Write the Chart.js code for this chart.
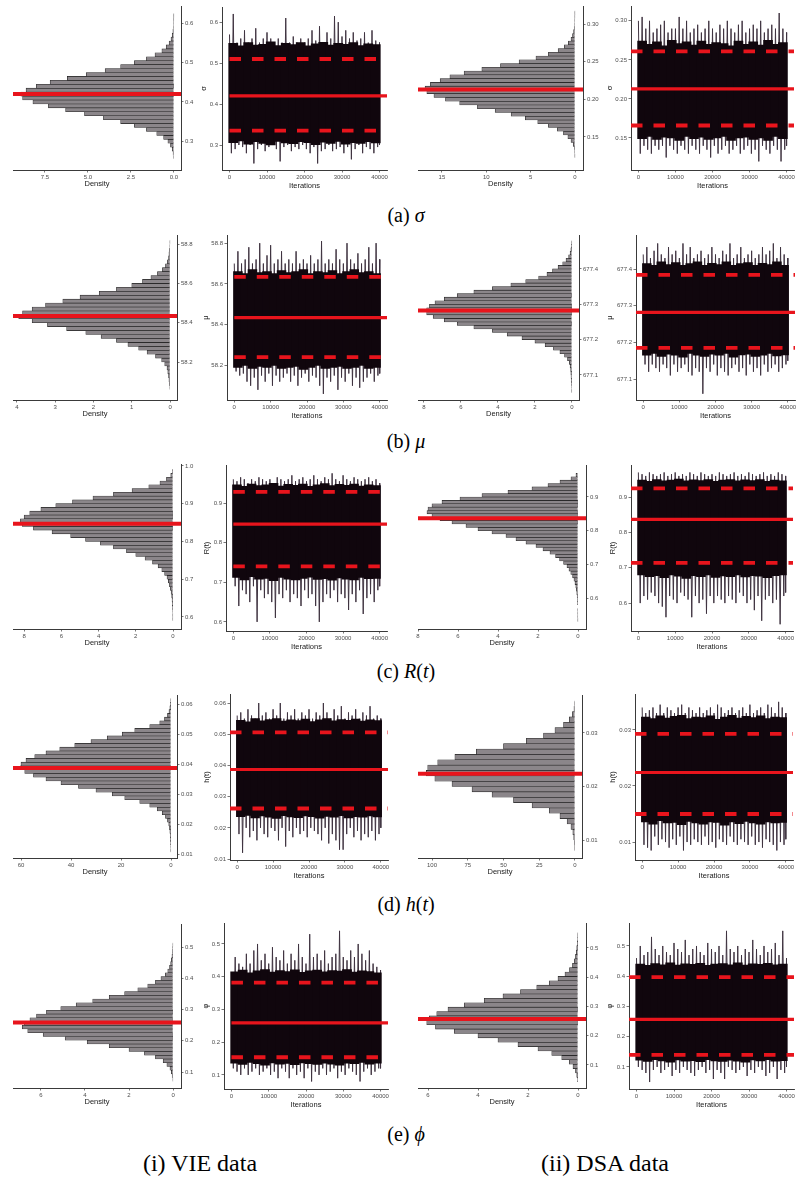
<!DOCTYPE html>
<html>
<head>
<meta charset="utf-8">
<script src="https://cdn.jsdelivr.net/npm/chart.js@4.4.0/dist/chart.umd.min.js"></script>
<style>
body { margin: 0; background: #fff; }
#page { position: relative; width: 812px; height: 1181px; overflow: hidden; background: #fff; }
#page canvas { position: absolute; }
.cap { position: absolute; transform: translate(-50%, -50%); font-family: "Liberation Serif", "DejaVu Serif", serif; color: #000; white-space: nowrap; line-height: 1; }
</style>
</head>
<body>
<div id="page">
  <div class="cap" style="left:406px;top:215px;font-size:20px">(a) <i>σ</i></div>
  <div class="cap" style="left:406px;top:441px;font-size:20px">(b) <i>μ</i></div>
  <div class="cap" style="left:406px;top:671px;font-size:20px">(c) <i>R</i>(<i>t</i>)</div>
  <div class="cap" style="left:406px;top:904px;font-size:20px">(d) <i>h</i>(<i>t</i>)</div>
  <div class="cap" style="left:406px;top:1134px;font-size:20px">(e) <i>ϕ</i></div>
  <div class="cap" style="left:200px;top:1163px;font-size:24px">(i) VIE data</div>
  <div class="cap" style="left:605px;top:1163px;font-size:24px">(ii) DSA data</div>
</div>
<script>
// ---------- data ----------
const iterationTicks = ['0', '10000', '20000', '30000', '40000'];
// trace blocks: one max/min per 1000 iterations, dense band per 2000
const iterations = [0,1000,2000,3000,4000,5000,6000,7000,8000,9000,10000,11000,12000,13000,14000,15000,16000,17000,18000,19000,20000,
  21000,22000,23000,24000,25000,26000,27000,28000,29000,30000,31000,32000,33000,34000,35000,36000,37000,38000,39000,40000];
const bandIterations = [1000,3000,5000,7000,9000,11000,13000,15000,17000,19000,21000,23000,25000,27000,29000,31000,33000,35000,37000,39000];

// sigma
const sigmaVieDensity = [0.02,0.05,0.1,0.2,0.35,0.6,1.0,1.6,2.3,3.1,4.1,5.2,6.3,7.3,8.2,8.8,8.9,8.6,8.0,7.2,6.2,5.1,4.0,3.1,2.3,1.6,1.1,0.7,0.45,0.28,0.17,0.1,0.06,0.03,0.02,0.01,0.005];
const sigmaVieBins = [0.26, 0.01];
const sigmaVieSummary = [0.335, 0.42, 0.51];
const sigmaVieHigh = [0.57,0.62,0.55,0.56,0.58,0.55,0.56,0.585,0.55,0.56,0.575,0.56,0.55,0.56,0.55,0.61,0.55,0.565,0.55,0.56,0.55,0.56,0.58,0.555,0.59,0.55,0.575,0.56,0.615,0.6,0.565,0.58,0.56,0.575,0.555,0.56,0.575,0.55,0.58,0.555,0.55];
const sigmaVieLow = [0.28,0.29,0.3,0.295,0.28,0.3,0.255,0.29,0.3,0.285,0.295,0.3,0.29,0.26,0.295,0.3,0.285,0.295,0.29,0.3,0.29,0.28,0.295,0.255,0.285,0.29,0.3,0.285,0.29,0.295,0.28,0.295,0.265,0.29,0.3,0.28,0.295,0.29,0.28,0.295,0.3];
const sigmaVieBandHigh = [0.548,0.542,0.55,0.544,0.546,0.552,0.543,0.548,0.545,0.55,0.542,0.547,0.551,0.544,0.548,0.546,0.55,0.543,0.547,0.545];
const sigmaVieBandLow = [0.306,0.31,0.302,0.308,0.304,0.3,0.309,0.305,0.303,0.308,0.306,0.301,0.307,0.304,0.309,0.302,0.306,0.304,0.308,0.305];
const sigmaVieTicks = ['0.3', '0.4', '0.5', '0.6'];
const sigmaVieDensityTicks = ['0.0', '2.5', '5.0', '7.5'];

const sigmaDsaDensity = [0.01,0.03,0.08,0.2,0.45,0.8,1.3,2.0,3.0,4.2,5.6,7.2,9.0,11.0,13.0,14.6,15.9,16.7,16.9,16.3,15.2,14.1,12.5,10.5,8.4,6.3,4.4,3.0,1.9,1.2,0.75,0.45,0.28,0.16,0.09,0.05,0.03,0.015,0.01];
const sigmaDsaBins = [0.125, 0.005];
const sigmaDsaSummary = [0.166, 0.213, 0.261];
const sigmaDsaHigh = [0.30,0.305,0.29,0.3,0.285,0.29,0.295,0.3,0.285,0.29,0.29,0.305,0.29,0.3,0.285,0.29,0.295,0.285,0.29,0.3,0.29,0.285,0.295,0.29,0.3,0.29,0.285,0.295,0.3,0.285,0.29,0.295,0.29,0.3,0.285,0.29,0.295,0.29,0.31,0.29,0.285];
const sigmaDsaLow = [0.13,0.14,0.135,0.13,0.14,0.135,0.14,0.125,0.14,0.135,0.13,0.14,0.135,0.13,0.14,0.135,0.13,0.14,0.135,0.125,0.14,0.13,0.135,0.14,0.13,0.135,0.14,0.13,0.135,0.14,0.13,0.135,0.12,0.14,0.135,0.13,0.14,0.135,0.12,0.135,0.14];
const sigmaDsaBandHigh = [0.274,0.27,0.273,0.268,0.275,0.271,0.273,0.269,0.274,0.27,0.272,0.271,0.268,0.274,0.27,0.273,0.269,0.275,0.27,0.272];
const sigmaDsaBandLow = [0.149,0.152,0.148,0.151,0.15,0.147,0.152,0.149,0.151,0.148,0.15,0.152,0.147,0.15,0.151,0.148,0.15,0.147,0.152,0.149];
const sigmaDsaTicks = ['0.15', '0.20', '0.25', '0.30'];
const sigmaDsaDensityTicks = ['0', '5', '10', '15'];

// mu
const muVieDensity = [0.01,0.02,0.03,0.04,0.06,0.08,0.14,0.22,0.38,0.6,0.82,1.1,1.4,1.8,2.2,2.7,3.2,3.6,3.95,3.85,3.6,3.25,2.8,2.35,1.85,1.4,1.0,0.72,0.5,0.33,0.2,0.12,0.07,0.04,0.03,0.02,0.01,0.005];
const muVieBins = [58.07, 0.02];
const muVieSummary = [58.24, 58.434, 58.634];
const muVieHigh = [58.7,58.76,58.7,58.72,58.78,58.7,58.72,58.8,58.7,58.74,58.79,58.7,58.72,58.76,58.7,58.72,58.7,58.76,58.7,58.72,58.7,58.74,58.7,58.72,58.81,58.7,58.72,58.7,58.77,58.72,58.7,58.8,58.72,58.7,58.75,58.7,58.72,58.78,58.7,58.8,58.72];
const muVieLow = [58.17,58.15,58.16,58.12,58.1,58.14,58.08,58.15,58.12,58.16,58.1,58.15,58.12,58.14,58.16,58.12,58.15,58.1,58.14,58.16,58.12,58.15,58.14,58.1,58.06,58.14,58.12,58.15,58.08,58.14,58.12,58.16,58.1,58.14,58.09,58.12,58.14,58.16,58.12,58.15,58.16];
const muVieBandHigh = [58.66,58.65,58.67,58.655,58.66,58.65,58.665,58.655,58.66,58.67,58.65,58.66,58.655,58.665,58.65,58.66,58.67,58.655,58.66,58.65];
const muVieBandLow = [58.19,58.2,58.185,58.195,58.19,58.2,58.185,58.19,58.195,58.18,58.19,58.2,58.185,58.19,58.195,58.185,58.19,58.2,58.185,58.19];
const muVieTicks = ['58.2', '58.4', '58.6', '58.8'];
const muVieDensityTicks = ['0', '1', '2', '3', '4'];

const muDsaDensity = [0.01,0.02,0.03,0.04,0.05,0.06,0.07,0.1,0.14,0.24,0.4,0.65,1.0,1.45,2.0,2.7,3.5,4.3,5.3,6.2,6.9,7.5,7.85,7.85,7.7,7.4,6.9,6.2,5.3,4.3,3.3,2.5,1.8,1.35,1.05,0.75,0.5,0.32,0.18,0.1,0.06,0.03,0.01];
const muDsaBins = [677.055, 0.01];
const muDsaSummary = [677.185, 677.282, 677.384];
const muDsaHigh = [677.44,677.46,677.43,677.45,677.47,677.44,677.43,677.46,677.44,677.45,677.43,677.47,677.44,677.46,677.43,677.44,677.45,677.43,677.44,677.46,677.44,677.43,677.45,677.44,677.47,677.43,677.44,677.46,677.43,677.44,677.45,677.43,677.44,677.46,677.44,677.45,677.47,677.43,677.46,677.44,677.43];
const muDsaLow = [677.14,677.12,677.14,677.13,677.12,677.14,677.13,677.11,677.14,677.12,677.13,677.14,677.12,677.11,677.13,677.12,677.06,677.13,677.12,677.14,677.11,677.13,677.12,677.11,677.13,677.14,677.12,677.13,677.11,677.14,677.12,677.13,677.11,677.14,677.12,677.13,677.14,677.12,677.13,677.14,677.15];
const muDsaBandHigh = [677.415,677.41,677.42,677.412,677.418,677.41,677.415,677.42,677.41,677.416,677.412,677.42,677.41,677.415,677.418,677.41,677.416,677.412,677.42,677.41];
const muDsaBandLow = [677.165,677.17,677.162,677.168,677.165,677.16,677.17,677.165,677.162,677.168,677.165,677.17,677.16,677.166,677.168,677.162,677.165,677.17,677.163,677.166];
const muDsaTicks = ['677.1', '677.2', '677.3', '677.4'];
const muDsaDensityTicks = ['0', '2', '4', '6', '8'];

// R(t)
const relVieDensity = [0.01,0.01,0.02,0.03,0.04,0.05,0.07,0.1,0.14,0.19,0.25,0.32,0.45,0.6,0.8,1.1,1.5,2.0,2.5,3.2,3.9,4.7,5.5,6.5,7.5,8.1,8.2,8.0,7.7,7.1,6.3,5.4,4.3,3.2,2.2,1.3,0.7,0.35,0.12,0.03];
const relVieBins = [0.595, 0.01];
const relVieSummary = [0.74, 0.847, 0.928];
const relVieHigh = [0.96,0.955,0.965,0.96,0.95,0.96,0.955,0.965,0.96,0.955,0.96,0.95,0.965,0.96,0.955,0.96,0.97,0.955,0.96,0.965,0.955,0.96,0.97,0.96,0.955,0.965,0.96,0.975,0.96,0.955,0.97,0.96,0.955,0.965,0.96,0.955,0.96,0.965,0.955,0.96,0.95];
const relVieLow = [0.69,0.64,0.68,0.67,0.65,0.69,0.6,0.68,0.66,0.67,0.65,0.61,0.67,0.66,0.68,0.65,0.67,0.66,0.64,0.68,0.66,0.67,0.64,0.6,0.65,0.67,0.66,0.68,0.65,0.67,0.66,0.63,0.67,0.65,0.68,0.62,0.66,0.67,0.65,0.68,0.69];
const relVieBandHigh = [0.946,0.942,0.948,0.944,0.946,0.95,0.943,0.947,0.945,0.948,0.942,0.946,0.949,0.944,0.947,0.945,0.948,0.943,0.946,0.944];
const relVieBandLow = [0.712,0.706,0.714,0.708,0.71,0.704,0.712,0.708,0.706,0.71,0.713,0.707,0.709,0.705,0.711,0.708,0.706,0.712,0.709,0.71];
const relVieTicks = ['0.6', '0.7', '0.8', '0.9'];
const relVieHistTicks = ['0.6', '0.7', '0.8', '0.9', '1.0'];
const relVieDensityTicks = ['0', '2', '4', '6', '8'];

const relDsaDensity = [0.005,0.01,0.01,0.015,0.02,0.025,0.03,0.04,0.06,0.08,0.11,0.15,0.2,0.27,0.36,0.45,0.55,0.72,0.92,1.12,1.4,1.75,2.1,2.6,3.1,3.6,4.3,5.0,5.6,6.3,6.9,7.3,7.55,7.5,7.3,6.8,5.9,4.8,3.5,2.3,1.5,0.9,0.35,0.1,0.02];
const relDsaBins = [0.535, 0.01];
const relDsaSummary = [0.714, 0.837, 0.925];
const relDsaHigh = [0.97,0.965,0.96,0.97,0.965,0.96,0.965,0.97,0.96,0.965,0.97,0.96,0.965,0.96,0.97,0.965,0.96,0.97,0.965,0.96,0.965,0.96,0.97,0.965,0.96,0.965,0.97,0.96,0.965,0.96,0.97,0.965,0.96,0.965,0.97,0.96,0.965,0.96,0.97,0.965,0.96];
const relDsaLow = [0.6,0.62,0.61,0.63,0.62,0.6,0.59,0.56,0.62,0.61,0.6,0.63,0.62,0.61,0.56,0.62,0.6,0.61,0.57,0.62,0.6,0.62,0.61,0.6,0.62,0.61,0.6,0.63,0.62,0.6,0.61,0.58,0.62,0.55,0.61,0.62,0.6,0.61,0.54,0.62,0.63];
const relDsaBandHigh = [0.948,0.945,0.95,0.946,0.948,0.951,0.946,0.949,0.947,0.95,0.945,0.948,0.95,0.946,0.949,0.947,0.95,0.945,0.948,0.946];
const relDsaBandLow = [0.68,0.675,0.678,0.672,0.68,0.676,0.67,0.678,0.675,0.68,0.673,0.677,0.675,0.68,0.674,0.678,0.676,0.672,0.678,0.68];
const relDsaTicks = ['0.6', '0.7', '0.8', '0.9'];
const relDsaDensityTicks = ['0', '2', '4', '6', '8'];

// h(t)
const hazVieDensity = [0.1,0.15,0.2,0.25,0.3,0.45,0.6,0.9,1.4,2.2,3.5,5.5,8.5,12.5,18.5,23.5,30,37,44,50,55,58.5,60.3,60,58,54.5,50,44.5,38.5,32,25.5,19.5,14.5,8.5,4.5,2.6,1.4,0.8,0.45,0.25,0.1];
const hazVieBins = [0.01125, 0.00125];
const hazVieSummary = [0.0262, 0.0387, 0.0506];
const hazVieHigh = [0.056,0.057,0.055,0.058,0.056,0.055,0.06,0.056,0.057,0.055,0.058,0.056,0.06,0.055,0.057,0.056,0.058,0.055,0.057,0.056,0.058,0.055,0.057,0.056,0.06,0.057,0.055,0.058,0.056,0.059,0.055,0.057,0.056,0.058,0.055,0.057,0.056,0.059,0.055,0.056,0.055];
const hazVieLow = [0.018,0.012,0.02,0.017,0.019,0.016,0.02,0.018,0.017,0.02,0.019,0.016,0.02,0.014,0.019,0.017,0.02,0.018,0.019,0.017,0.02,0.019,0.018,0.016,0.02,0.015,0.018,0.016,0.013,0.013,0.018,0.02,0.017,0.019,0.016,0.018,0.017,0.019,0.016,0.018,0.02];
const hazVieBandHigh = [0.0545,0.054,0.055,0.0543,0.0547,0.055,0.0542,0.0546,0.0544,0.0549,0.0541,0.0546,0.055,0.0543,0.0547,0.0545,0.0549,0.0542,0.0546,0.0544];
const hazVieBandLow = [0.0236,0.024,0.0232,0.0238,0.0234,0.023,0.0239,0.0235,0.0233,0.0238,0.0236,0.0231,0.0237,0.0234,0.0239,0.0232,0.0236,0.0234,0.0238,0.0235];
const hazVieTicks = ['0.01', '0.02', '0.03', '0.04', '0.05', '0.06'];
const hazVieDensityTicks = ['0', '20', '40', '60'];

const hazDsaDensity = [0.2,0.5,0.9,1.5,2.8,5.5,10.5,18,30,43,58,72,86,98,104,103,96,84,69,50,34,22,14,8,4,1.8,0.7,0.2];
const hazDsaBins = [0.0085, 0.001];
const hazDsaSummary = [0.015, 0.0224, 0.0293];
const hazDsaHigh = [0.034,0.033,0.0335,0.034,0.033,0.0345,0.033,0.034,0.0335,0.033,0.034,0.0345,0.033,0.034,0.0335,0.033,0.034,0.033,0.0335,0.034,0.033,0.0345,0.034,0.033,0.0335,0.034,0.033,0.0335,0.034,0.033,0.0345,0.033,0.0335,0.034,0.033,0.0345,0.034,0.033,0.035,0.034,0.033];
const hazDsaLow = [0.0095,0.009,0.0085,0.011,0.0095,0.0105,0.01,0.009,0.0105,0.0095,0.011,0.0085,0.01,0.0095,0.0105,0.01,0.0095,0.011,0.0095,0.01,0.009,0.0105,0.01,0.0095,0.011,0.01,0.0095,0.0105,0.01,0.0095,0.011,0.0095,0.01,0.009,0.0105,0.01,0.0095,0.0085,0.01,0.0095,0.0105];
const hazDsaBandHigh = [0.0323,0.032,0.0325,0.0321,0.0324,0.0326,0.032,0.0323,0.0322,0.0325,0.0319,0.0323,0.0326,0.0321,0.0324,0.0322,0.0325,0.032,0.0323,0.0322];
const hazDsaBandLow = [0.0136,0.0132,0.0138,0.0134,0.0135,0.0131,0.0137,0.0134,0.0132,0.0136,0.0135,0.013,0.0136,0.0133,0.0137,0.0134,0.0132,0.0136,0.0134,0.0135];
const hazDsaTicks = ['0.01', '0.02', '0.03'];
const hazDsaDensityTicks = ['0', '25', '50', '75', '100'];

// phi
const phiVieDensity = [0.01,0.04,0.08,0.14,0.28,0.45,0.8,1.3,2.0,2.9,3.9,4.9,5.9,6.6,6.85,6.75,6.5,6.2,5.75,5.1,4.4,3.65,2.9,2.2,1.6,1.15,0.8,0.55,0.35,0.24,0.16,0.11,0.08,0.05,0.03,0.02,0.01];
const phiVieBins = [0.076, 0.012];
const phiVieSummary = [0.154, 0.259, 0.382];
const phiVieHigh = [0.41,0.46,0.44,0.43,0.47,0.44,0.48,0.5,0.45,0.47,0.44,0.49,0.46,0.45,0.48,0.44,0.47,0.45,0.5,0.46,0.44,0.53,0.46,0.47,0.45,0.48,0.44,0.46,0.47,0.54,0.46,0.45,0.48,0.46,0.5,0.47,0.45,0.48,0.44,0.43,0.42];
const phiVieLow = [0.12,0.11,0.1,0.12,0.1,0.11,0.12,0.1,0.11,0.12,0.1,0.11,0.09,0.12,0.11,0.09,0.12,0.1,0.11,0.09,0.12,0.08,0.11,0.1,0.12,0.1,0.11,0.12,0.09,0.11,0.1,0.12,0.11,0.1,0.08,0.11,0.12,0.1,0.11,0.12,0.12];
const phiVieBandHigh = [0.415,0.42,0.412,0.418,0.422,0.414,0.419,0.416,0.421,0.413,0.418,0.42,0.415,0.419,0.417,0.422,0.414,0.418,0.416,0.412];
const phiVieBandLow = [0.136,0.132,0.138,0.134,0.13,0.137,0.133,0.135,0.131,0.137,0.134,0.132,0.136,0.133,0.13,0.136,0.134,0.138,0.133,0.136];
const phiVieTicks = ['0.1', '0.2', '0.3', '0.4', '0.5'];
const phiVieDensityTicks = ['0', '2', '4', '6'];

const phiDsaDensity = [0.02,0.05,0.1,0.2,0.35,0.65,1.05,1.6,2.4,3.2,4.0,4.95,5.7,6.05,5.95,5.65,5.2,4.55,3.75,3.0,2.3,1.65,1.15,0.8,0.52,0.34,0.22,0.15,0.1,0.07,0.05,0.03,0.02,0.01];
const phiDsaBins = [0.05, 0.015];
const phiDsaSummary = [0.14, 0.257, 0.397];
const phiDsaHigh = [0.46,0.5,0.47,0.48,0.53,0.49,0.47,0.5,0.48,0.47,0.51,0.49,0.48,0.52,0.47,0.49,0.5,0.48,0.47,0.51,0.49,0.48,0.5,0.47,0.55,0.49,0.48,0.5,0.47,0.49,0.48,0.52,0.49,0.47,0.5,0.48,0.49,0.51,0.47,0.55,0.46];
const phiDsaLow = [0.1,0.09,0.08,0.05,0.09,0.1,0.08,0.09,0.1,0.07,0.09,0.08,0.1,0.09,0.08,0.07,0.09,0.1,0.08,0.09,0.06,0.09,0.08,0.06,0.1,0.09,0.08,0.09,0.1,0.07,0.09,0.08,0.1,0.09,0.07,0.08,0.1,0.06,0.09,0.08,0.1];
const phiDsaBandHigh = [0.44,0.436,0.442,0.438,0.444,0.437,0.441,0.439,0.443,0.436,0.44,0.442,0.438,0.444,0.437,0.441,0.439,0.443,0.438,0.44];
const phiDsaBandLow = [0.122,0.118,0.124,0.12,0.116,0.123,0.119,0.121,0.117,0.124,0.12,0.118,0.122,0.119,0.116,0.123,0.12,0.124,0.119,0.121];
const phiDsaTicks = ['0.1', '0.2', '0.3', '0.4', '0.5'];
const phiDsaDensityTicks = ['0', '2', '4', '6'];

// ---------- look & placement ----------
const SANS = '"Liberation Sans", Arial, sans-serif';
const RED = '#e8141c';
const PAD = 10;
const ITER_MIN = -2000, ITER_MAX = 42000;
const page = document.getElementById('page');

function makeCanvas(left, top, w, h) {
    const c = document.createElement('canvas');
    c.width = w;
    c.height = h;
    c.style.left = left + 'px';
    c.style.top = top + 'px';
    c.style.width = w + 'px';
    c.style.height = h + 'px';
    page.appendChild(c);
    return c;
}

function axisTitle(text) {
    return { display: true, text: text, color: '#1a1a1a', padding: 0, font: { family: SANS, size: 7.5 } };
}

// linear axis with ggplot-classic look, ticks taken from the label list
function axis(min, max, labels, extra) {
    return Object.assign({
        type: 'linear', min: min, max: max, offset: false,
        grid: { drawOnChartArea: false, drawTicks: true, tickLength: 2.5, lineWidth: 0.8, color: '#555', offset: false },
        border: { display: true, color: '#3a3a3a', width: 1 },
        ticks: {
            autoSkip: false, maxRotation: 0, minRotation: 0, padding: 1.5, color: '#4d4d4d',
            font: { family: SANS, size: 6 },
            callback: (v, i) => labels[i]
        },
        afterBuildTicks: sc => { sc.ticks = labels.map(t => ({ value: Number(t) })); }
    }, extra);
}

function drawHistogram(g, density, bins, mean, valueTicks, densityTicks) {
    const RW = 26, BH = 18;
    const canvas = makeCanvas(g.L - PAD, g.T - PAD, g.R - g.L + RW + 2 * PAD, g.B - g.T + BH + 2 * PAD);
    const bars = density.map((d, i) => ({ x: d, y: bins[0] + i * bins[1] }));
    new Chart(canvas, {
        type: 'bar',
        data: {
            datasets: [
                { type: 'line', data: [{ x: g.xMax, y: mean }, { x: g.xMin, y: mean }], borderColor: RED, borderWidth: 4, pointRadius: 0, order: 0 },
                { data: bars, backgroundColor: '#8b868a', borderColor: '#1f1f1f', borderWidth: 0.6, barPercentage: 1, categoryPercentage: 1, order: 1 }
            ]
        },
        options: {
            indexAxis: 'y', responsive: false, animation: false,
            layout: { padding: PAD },
            plugins: { legend: { display: false }, tooltip: { enabled: false } },
            scales: {
                x: axis(g.xMin, g.xMax, densityTicks, { reverse: true, position: 'bottom', title: axisTitle('Density'), afterFit: sc => { sc.height = BH; } }),
                y: axis(g.yMin, g.yMax, valueTicks, { position: 'right', afterFit: sc => { sc.width = RW; } })
            }
        }
    });
}

function drawTrace(g, symbol, high, low, bandHigh, bandLow, summary, valueTicks) {
    const BH = 20;
    const canvas = makeCanvas(g.L - g.leftW - PAD, g.T - PAD, g.R - g.L + g.leftW + 2 * PAD, g.B - g.T + BH + 2 * PAD);
    const pxPerIter = (g.R - g.L) / (ITER_MAX - ITER_MIN);
    const ref = (v, dashed) => ({
        type: 'line', data: [{ x: g.lineStart, y: v }, { x: ITER_MAX, y: v }],
        borderColor: RED, borderWidth: dashed ? 3.8 : 3.2, borderDash: dashed ? [11.5, 11] : [],
        pointRadius: 0, order: 0
    });
    // the chain swings from each block maximum to the block minimum
    const chain = [];
    iterations.forEach((it, i) => {
        chain.push({ x: it, y: high[i] });
        chain.push({ x: Math.min(it + 500, 40000), y: low[i] });
    });
    new Chart(canvas, {
        type: 'bar',
        data: {
            datasets: [
                ref(summary[1], false), ref(summary[0], true), ref(summary[2], true),
                { data: bandIterations.map((it, i) => ({ x: it, y: [bandLow[i], bandHigh[i]] })), backgroundColor: '#10060d',
                  barThickness: 2000 * pxPerIter + 1.6, grouped: false, order: 1 },
                { type: 'line', data: chain, borderColor: '#3f3340', borderWidth: 1, pointRadius: 0, tension: 0, order: 2 }
            ]
        },
        options: {
            responsive: false, animation: false,
            layout: { padding: PAD },
            plugins: { legend: { display: false }, tooltip: { enabled: false } },
            scales: {
                x: axis(ITER_MIN, ITER_MAX, iterationTicks, { position: 'bottom', title: axisTitle('Iterations'), afterFit: sc => { sc.height = BH; } }),
                y: axis(g.yMin, g.yMax, valueTicks, { position: 'left', title: axisTitle(symbol), afterFit: sc => { sc.width = g.leftW; } })
            }
        }
    });
}

// panel boxes (plot area in page pixels) and axis ranges
drawHistogram({ L: 13, T: 6, R: 181, B: 170, xMin: -0.41, xMax: 9.36, yMin: 0.227, yMax: 0.644 },
    sigmaVieDensity, sigmaVieBins, sigmaVieSummary[1], sigmaVieTicks, sigmaVieDensityTicks);
drawTrace({ L: 222, T: 7, R: 387, B: 170, yMin: 0.239, yMax: 0.637, leftW: 23, lineStart: 0 },
    'σ', sigmaVieHigh, sigmaVieLow, sigmaVieBandHigh, sigmaVieBandLow, sigmaVieSummary, sigmaVieTicks);
drawHistogram({ L: 418, T: 6, R: 583, B: 170, xMin: -0.9, xMax: 17.7, yMin: 0.106, yMax: 0.324 },
    sigmaDsaDensity, sigmaDsaBins, sigmaDsaSummary[1], sigmaDsaTicks, sigmaDsaDensityTicks);
drawTrace({ L: 631, T: 6, R: 794, B: 170, yMin: 0.109, yMax: 0.319, leftW: 26, lineStart: ITER_MIN },
    'σ', sigmaDsaHigh, sigmaDsaLow, sigmaDsaBandHigh, sigmaDsaBandLow, sigmaDsaSummary, sigmaDsaTicks);

drawHistogram({ L: 13, T: 235, R: 177, B: 400, xMin: -0.18, xMax: 4.1, yMin: 58.007, yMax: 58.846 },
    muVieDensity, muVieBins, muVieSummary[1], muVieTicks, muVieDensityTicks);
drawTrace({ L: 227, T: 235, R: 387, B: 400, yMin: 58.03, yMax: 58.84, leftW: 26, lineStart: 0 },
    'μ', muVieHigh, muVieLow, muVieBandHigh, muVieBandLow, muVieSummary, muVieTicks);
drawHistogram({ L: 418, T: 235, R: 579, B: 400, xMin: -0.38, xMax: 8.32, yMin: 677.029, yMax: 677.496 },
    muDsaDensity, muDsaBins, muDsaSummary[1], muDsaTicks, muDsaDensityTicks);
drawTrace({ L: 636, T: 235, R: 795, B: 400, yMin: 677.043, yMax: 677.493, leftW: 31, lineStart: ITER_MIN },
    'μ', muDsaHigh, muDsaLow, muDsaBandHigh, muDsaBandLow, muDsaSummary, muDsaTicks);

drawHistogram({ L: 13, T: 464, R: 181, B: 629, xMin: -0.43, xMax: 8.6, yMin: 0.568, yMax: 1.005 },
    relVieDensity, relVieBins, relVieSummary[1], relVieHistTicks, relVieDensityTicks);
drawTrace({ L: 226, T: 465, R: 387, B: 631, yMin: 0.577, yMax: 0.996, leftW: 24, lineStart: 0 },
    'R(t)', relVieHigh, relVieLow, relVieBandHigh, relVieBandLow, relVieSummary, relVieTicks);
drawHistogram({ L: 418, T: 465, R: 586, B: 629, xMin: -0.4, xMax: 8.0, yMin: 0.508, yMax: 0.995 },
    relDsaDensity, relDsaBins, relDsaSummary[1], relDsaTicks, relDsaDensityTicks);
drawTrace({ L: 631, T: 465, R: 793, B: 631, yMin: 0.521, yMax: 0.991, leftW: 23, lineStart: ITER_MIN },
    'R(t)', relDsaHigh, relDsaLow, relDsaBandHigh, relDsaBandLow, relDsaSummary, relDsaTicks);

drawHistogram({ L: 13, T: 695, R: 177, B: 858, xMin: -2.4, xMax: 63.2, yMin: 0.0087, yMax: 0.063 },
    hazVieDensity, hazVieBins, hazVieSummary[1], hazVieTicks, hazVieDensityTicks);
drawTrace({ L: 230, T: 694, R: 388, B: 860, yMin: 0.0097, yMax: 0.0629, leftW: 28, lineStart: ITER_MIN },
    'h(t)', hazVieHigh, hazVieLow, hazVieBandHigh, hazVieBandLow, hazVieSummary, hazVieTicks);
drawHistogram({ L: 418, T: 695, R: 582, B: 858, xMin: -4.9, xMax: 109.8, yMin: 0.00664, yMax: 0.0371 },
    hazDsaDensity, hazDsaBins, hazDsaSummary[1], hazDsaTicks, hazDsaDensityTicks);
drawTrace({ L: 635, T: 694, R: 793, B: 860, yMin: 0.0068, yMax: 0.0364, leftW: 27, lineStart: ITER_MIN },
    'h(t)', hazDsaHigh, hazDsaLow, hazDsaBandHigh, hazDsaBandLow, hazDsaSummary, hazDsaTicks);

drawHistogram({ L: 13, T: 924, R: 181, B: 1088, xMin: -0.36, xMax: 7.27, yMin: 0.049, yMax: 0.574 },
    phiVieDensity, phiVieBins, phiVieSummary[1], phiVieTicks, phiVieDensityTicks);
drawTrace({ L: 224, T: 923, R: 388, B: 1089, yMin: 0.057, yMax: 0.564, leftW: 23, lineStart: 0 },
    'φ', phiVieHigh, phiVieLow, phiVieBandHigh, phiVieBandLow, phiVieSummary, phiVieTicks);
drawHistogram({ L: 418, T: 923, R: 586, B: 1088, xMin: -0.32, xMax: 6.4, yMin: 0.021, yMax: 0.585 },
    phiDsaDensity, phiDsaBins, phiDsaSummary[1], phiDsaTicks, phiDsaDensityTicks);
drawTrace({ L: 629, T: 923, R: 794, B: 1089, yMin: 0.027, yMax: 0.576, leftW: 24, lineStart: ITER_MIN },
    'φ', phiDsaHigh, phiDsaLow, phiDsaBandHigh, phiDsaBandLow, phiDsaSummary, phiDsaTicks);
</script>
</body>
</html>
